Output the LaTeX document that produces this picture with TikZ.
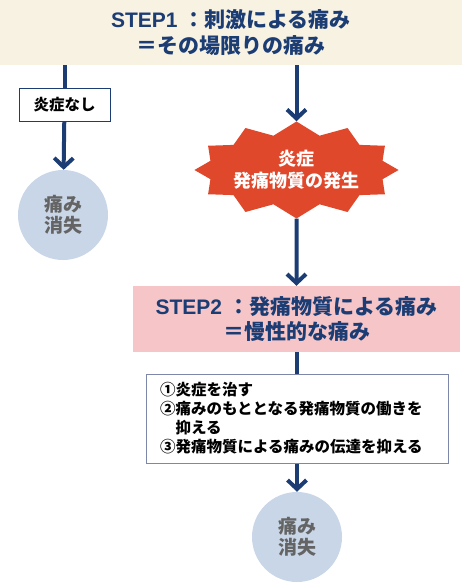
\documentclass[tikz,border=0pt]{standalone}
\usepackage{fontspec}
\setmainfont{Noto Sans CJK JP}
\newfontfamily\latn{Liberation Sans}
\usetikzlibrary{arrows.meta,shapes.symbols}
\definecolor{kon}{HTML}{1B3D74}
\definecolor{kinari}{HTML}{F8F2E2}
\definecolor{momo}{HTML}{F6C5C7}
\definecolor{shu}{HTML}{E0482B}
\definecolor{usuao}{HTML}{C9D6E7}
\definecolor{nezumi}{HTML}{646464}
\definecolor{waku}{HTML}{7C87A9}

\begin{document}
\begin{tikzpicture}[x=1pt,y=-1pt,>={Straight Barb[length=9pt,width=19pt]},
band/.style={fill=#1,inner sep=0pt,align=center,text=kon,
  font=\bfseries\fontsize{21}{25.5}\selectfont},
kieru/.style={circle,fill=usuao,minimum size=90pt,inner sep=0pt,
  align=center,text=nezumi,font=\bfseries\fontsize{19}{21.5}\selectfont},
flow/.style={draw=kon,line width=4pt}]
\useasboundingbox (0,0) rectangle (462,583);
% step 1
\node[band=kinari,minimum width=462pt,minimum height=65pt] (step1) at (231,32.5)
  {{\latn STEP1}\hspace{6pt}：刺激による痛み\\＝その場限りの痛み};
\node[draw=kon,line width=0.8pt,minimum width=91pt,minimum height=33pt,inner sep=0pt,
  font=\bfseries\fontsize{15.5}{18}\selectfont] (nashi) at (64.5,105) {炎症なし};
\node[kieru] (kieru1) at (63,215) {痛み\\消失};
\node[starburst,starburst points=12,starburst point height=13pt,random starburst=0,
  fill=shu,minimum width=204pt,minimum height=97pt,inner sep=0pt,align=center,
  text=white,font=\bfseries\fontsize{18}{22}\selectfont] (enshou) at (296.5,170)
  {炎症\\発痛物質の発生};
% step 2
\node[band=momo,minimum width=327pt,minimum height=66pt] (step2) at (296.5,319)
  {{\latn STEP2}\hspace{6pt}：発痛物質による痛み\\＝慢性的な痛み};
\node[draw=waku,line width=1pt,minimum width=302pt,minimum height=89pt,
  text width=274pt,inner sep=0pt,align=left,
  font=\bfseries\fontsize{15.5}{19}\selectfont] (taisaku) at (297,418.5)
  {①炎症を治す\\②痛みのもととなる発痛物質の働きを\\\hspace*{1em}抑える\\③発痛物質による痛みの伝達を抑える};
\node[kieru] (kieru2) at (297,537) {痛み\\消失};
% connectors
\draw[flow] (nashi.north |- step1.south) -- (nashi.north);
\draw[flow,->] (nashi) -- (kieru1);
\draw[flow,->] (enshou.north |- step1.south) -- (enshou.north);
\draw[flow,->] (enshou) -- (step2);
\draw[flow] (step2.south -| taisaku.north) -- (taisaku.north);
\draw[flow,->] (taisaku) -- (kieru2);
\end{tikzpicture}
\end{document}
